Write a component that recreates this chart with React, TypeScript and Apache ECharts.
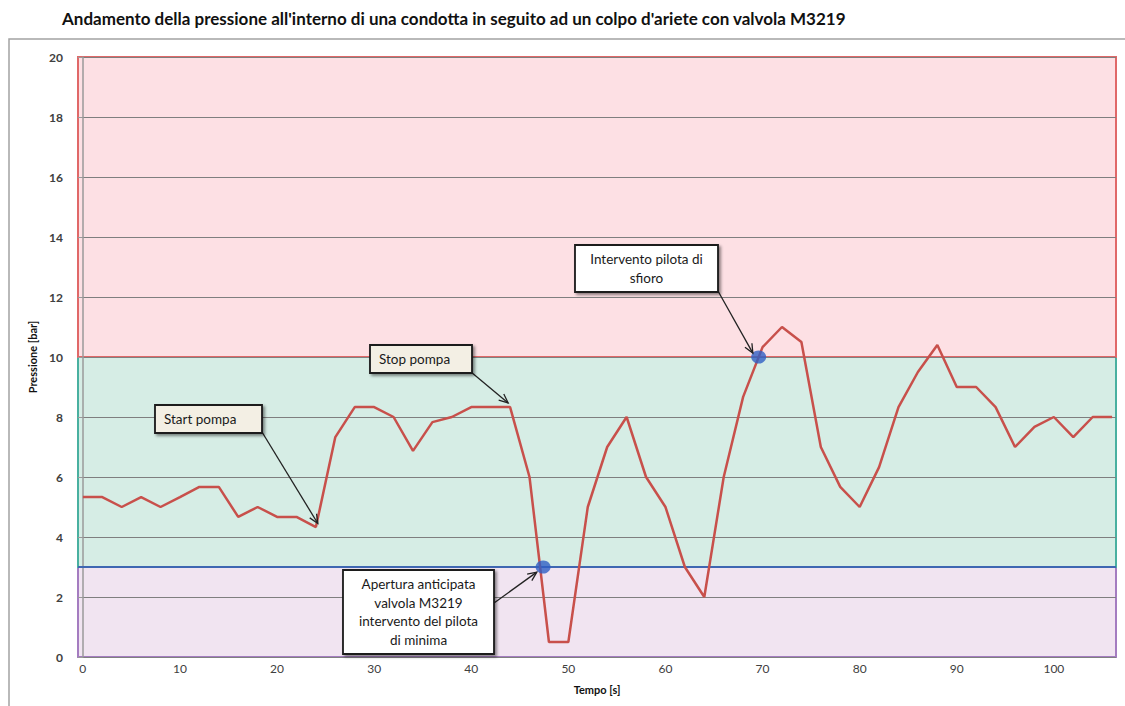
import React, { useEffect, useRef } from "react";
import * as echarts from "echarts";

const chartTitle =
  "Andamento della pressione all'interno di una condotta in seguito ad un colpo d'ariete con valvola M3219";
const xAxisName = "Tempo [s]";
const yAxisName = "Pressione [bar]";

const timeSeconds = [
  0, 2, 4, 6, 8, 10, 12, 14, 16, 18, 20, 22, 24, 26, 28, 30, 32, 34, 36, 38, 40, 42, 44, 46, 48, 50,
  52, 54, 56, 58, 60, 62, 64, 66, 68, 70, 72, 74, 76, 78, 80, 82, 84, 86, 88, 90, 92, 94, 96, 98, 100,
  102, 104, 106,
];
const pressureBar = [
  5.33, 5.33, 5.0, 5.33, 5.0, 5.33, 5.67, 5.67, 4.67, 5.0, 4.67, 4.67, 4.33, 7.33, 8.33, 8.33, 8.0,
  6.87, 7.83, 8.0, 8.33, 8.33, 8.33, 6.0, 0.5, 0.5, 5.0, 7.0, 8.0, 6.0, 5.0, 3.0, 2.0, 6.0, 8.67,
  10.33, 11.0, 10.5, 7.0, 5.67, 5.0, 6.33, 8.33, 9.5, 10.4, 9.0, 9.0, 8.33, 7.0, 7.67, 8.0, 7.33, 8.0,
  8.0,
];
const xTickLabels = [0, 10, 20, 30, 40, 50, 60, 70, 80, 90, 100];

// pressure bands: [from, to]
const bandMinima = [0, 3];
const bandEsercizio = [3, 10];
const bandSfioro = [10, 20];

// pilot intervention points [time, pressure]
const pilotPoints = [
  [47.4, 3],
  [69.6, 10],
];

// annotation callouts: tip in data coordinates, box in pixels
const annotations = [
  {
    lines: ["Start pompa"],
    box: [155, 405, 107, 28],
    fill: "#f3efe4",
    align: "left",
    from: [262, 432],
    tip: [24.2, 4.45],
  },
  {
    lines: ["Stop pompa"],
    box: [370, 345, 102, 28],
    fill: "#f3efe4",
    align: "left",
    from: [471, 372],
    tip: [43.8, 8.47],
  },
  {
    lines: ["Intervento pilota di", "sfioro"],
    box: [575, 245, 143, 47],
    fill: "#ffffff",
    align: "center",
    from: [718, 291],
    tip: [69.0, 10.13],
  },
  {
    lines: ["Apertura anticipata", "valvola M3219", "intervento del pilota", "di minima"],
    box: [343, 570, 151, 84],
    fill: "#ffffff",
    align: "center",
    from: [494, 603],
    tip: [46.75, 2.83],
  },
];

const FONT = "Lato, 'Open Sans', sans-serif";

export default function App() {
  const ref = useRef<HTMLDivElement>(null);

  useEffect(() => {
    const chart = echarts.init(ref.current!, null, { renderer: "svg" });
    const lineData = timeSeconds.map((t, i) => [t, pressureBar[i]]);

    chart.setOption({
      animation: false,
      backgroundColor: "#ffffff",
      textStyle: { fontFamily: FONT },
      title: {
        text: chartTitle,
        left: 57,
        top: 5,
        textStyle: { fontSize: 17, fontWeight: "bold", color: "#111", fontFamily: FONT },
      },
      grid: { left: 78, right: 9, top: 57, bottom: 49, containLabel: false },
      xAxis: {
        type: "value",
        min: -0.5,
        max: 106.4,
        z: 2,
        name: xAxisName,
        nameLocation: "middle",
        nameGap: 27,
        nameTextStyle: { fontSize: 11, fontWeight: "bold", color: "#111", fontFamily: FONT },
        axisLine: { show: false },
        axisTick: { show: false },
        splitLine: { show: false },
        axisLabel: {
          customValues: xTickLabels,
          margin: 5,
          fontSize: 12,
          color: "#404040",
          fontFamily: FONT,
        },
      },
      yAxis: {
        type: "value",
        min: 0,
        max: 20,
        interval: 2,
        offset: 5,
        z: 2,
        name: yAxisName,
        nameLocation: "middle",
        nameGap: 30,
        nameTextStyle: { fontSize: 11, fontWeight: "bold", color: "#111", fontFamily: FONT },
        axisLine: { show: true, lineStyle: { color: "#9a9a9a", width: 1.5 } },
        axisTick: { show: true, inside: false, length: 5, lineStyle: { color: "#9a9a9a" } },
        splitLine: { show: true, lineStyle: { color: "#7f7f7f", width: 1 } },
        axisLabel: { margin: 10, fontSize: 12, fontWeight: "bold", color: "#404040", fontFamily: FONT },
      },
      series: [
        {
          type: "line",
          name: "bands",
          data: [],
          z: 1,
          silent: true,
          markArea: {
            silent: true,
            z: 1,
            data: [
              [
                { yAxis: bandMinima[0], itemStyle: { color: "#f1e4f1", borderColor: "#a47cc0", borderWidth: 2 } },
                { yAxis: bandMinima[1] },
              ],
              [
                { yAxis: bandEsercizio[0], itemStyle: { color: "#d6ede5", borderColor: "#49b0a0", borderWidth: 2 } },
                { yAxis: bandEsercizio[1] },
              ],
              [
                { yAxis: bandSfioro[0], itemStyle: { color: "#fde0e4", borderColor: "#e06868", borderWidth: 2 } },
                { yAxis: bandSfioro[1] },
              ],
            ],
          },
          markLine: {
            silent: true,
            z: 2.5,
            symbol: ["none", "none"],
            label: { show: false },
            lineStyle: { color: "#3f67b2", width: 2, type: "solid" },
            data: [{ yAxis: bandEsercizio[0] }],
          },
        },
        {
          type: "line",
          name: "Pressione",
          data: lineData,
          z: 3,
          showSymbol: false,
          symbol: "none",
          lineStyle: { color: "#c8504b", width: 2.5 },
          itemStyle: { color: "#c8504b" },
        },
        {
          type: "scatter",
          name: "Interventi",
          data: pilotPoints,
          z: 4,
          symbol: "circle",
          symbolSize: [15, 13],
          itemStyle: { color: "#2f5fc4" },
        },
      ],
    });

    const graphics: any[] = [
      {
        type: "rect",
        z: 0,
        silent: true,
        shape: { x: 9, y: 39, width: 1130, height: 680 },
        style: { fill: "none", stroke: "#a3a3a3", lineWidth: 1.5 },
      },
    ];

    annotations.forEach((a) => {
      const [bx, by, bw, bh] = a.box;
      const tip = chart.convertToPixel({ gridIndex: 0 }, a.tip) as number[];
      const [sx, sy] = a.from;
      const dx = tip[0] - sx;
      const dy = tip[1] - sy;
      const len = Math.sqrt(dx * dx + dy * dy) || 1;
      const ux = dx / len;
      const uy = dy / len;
      const px = -uy;
      const py = ux;
      const hl = 9;
      const hw = 4;
      graphics.push({
        type: "line",
        z: 20,
        silent: true,
        shape: { x1: sx, y1: sy, x2: tip[0], y2: tip[1] },
        style: { stroke: "#222", lineWidth: 1.3 },
      });
      graphics.push({
        type: "polyline",
        z: 20,
        silent: true,
        shape: {
          points: [
            [tip[0] - hl * ux + hw * px, tip[1] - hl * uy + hw * py],
            [tip[0], tip[1]],
            [tip[0] - hl * ux - hw * px, tip[1] - hl * uy - hw * py],
          ],
        },
        style: { stroke: "#222", lineWidth: 1.3, fill: "none" },
      });
      graphics.push({
        type: "rect",
        z: 21,
        silent: true,
        shape: { x: bx, y: by, width: bw, height: bh },
        style: {
          fill: a.fill,
          stroke: "#1a1a1a",
          lineWidth: 1.8,
          shadowBlur: 3,
          shadowOffsetX: 2,
          shadowOffsetY: 2,
          shadowColor: "rgba(0,0,0,0.45)",
        },
      });
      const lh = 18.5;
      const n = a.lines.length;
      a.lines.forEach((ln, i) => {
        graphics.push({
          type: "text",
          z: 22,
          silent: true,
          style: {
            text: ln,
            x: a.align === "center" ? bx + bw / 2 : bx + 9,
            y: by + bh / 2 + (i - (n - 1) / 2) * lh,
            align: a.align === "center" ? "center" : "left",
            verticalAlign: "middle",
            fontSize: 13.5,
            fontFamily: FONT,
            fill: "#1a1a1a",
          },
        });
      });
    });

    chart.setOption({ graphic: graphics });

    return () => chart.dispose();
  }, []);

  return (
    <div
      ref={ref}
      style={{ position: "fixed", left: 0, top: 0, width: 1125, height: 706, background: "#fff" }}
    />
  );
}
